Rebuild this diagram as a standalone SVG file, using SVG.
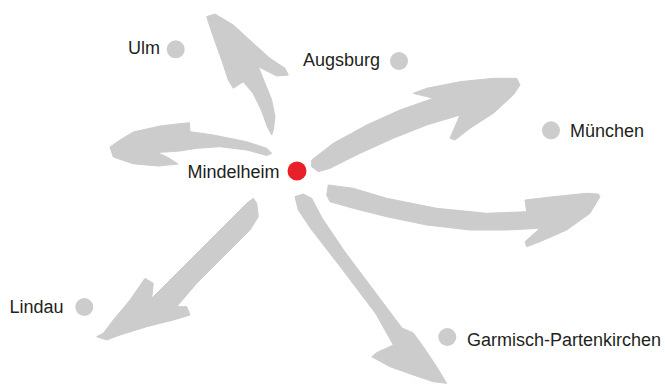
<svg xmlns="http://www.w3.org/2000/svg" width="665" height="388" viewBox="0 0 665 388">
<style>
.arrow{fill:#cdcccd;stroke:#cdcccd;stroke-width:1;stroke-linejoin:round}
.dot{fill:#cdcccd}
.hub{fill:#e8202a}
.lbl{font-family:"Liberation Sans",Arial,sans-serif;font-size:18px;fill:#231f20}
</style>
<rect width="665" height="388" fill="#ffffff"/>
<g id="connectors">
<path class="arrow" d="M206.7,16.7 L215,14 L233.3,25 L253.3,43.3 L270,58.3 L285,68.3 L288.3,75 L276.7,76 L258.3,66.7 L265,83.3 L271.7,100 L275,116.7 L273.3,130 L271.7,135 L267.3,126.7 L261.3,110 L253,93.3 L243.3,81.7 L233.3,88.3 L228.3,80 L221.7,60 L213.3,36.7 L208.3,21.7 Z"/>
<path class="arrow" d="M110,147 L120,140 L133.3,132 L160,126 L183.3,123.3 L189.3,122.7 L190,131.7 L213.3,135 L246.7,141.7 L266.7,148.3 L271.7,153.3 L266.7,155.5 L246.7,150 L220,146.7 L196.7,148.3 L180,151 L157,152.5 L168,157.5 L178,164 L158.3,166 L133.3,163.8 L113.3,157 Z"/>
<path class="arrow" d="M311.7,160 L333.3,143.3 L366.7,125 L400,110 L433.3,98.3 L413.3,93.3 L426.7,88.3 L460,81.7 L493.3,78.3 L516.7,78.3 L520,85 L513.3,95 L493.3,113.3 L470,128.3 L455,140 L450,138.3 L460,115 L426.7,125 L393.3,138.3 L360,153.3 L330,168.3 L318.3,171.7 L311.7,166.7 Z"/>
<path class="arrow" d="M328.3,185 L353.3,188.3 L386.7,198.3 L436.7,208.3 L486.7,213.3 L526.7,211.7 L525,200 L553.3,196.7 L586.7,193.3 L598.3,194 L600,196.7 L590,213.3 L566.7,230 L540,241.7 L526.7,246.7 L525,241.7 L540,228.3 L506.7,230 L470,230 L426.7,225 L386.7,216.7 L353.3,208.3 L330,201.7 L326.7,195 Z"/>
<path class="arrow" d="M295,196.7 L303.3,194 L311.7,198.3 L322,218 L345,252 L378,296 L402,328 L413.3,333 L423.3,346.7 L436.7,366.7 L446.7,383.3 L433.3,381.7 L413.3,375 L390,366.7 L371.7,356.7 L377,352.5 L393.3,345 L376,314 L342,269 L311,229 L298.3,210 Z"/>
<path class="arrow" d="M253.3,198.3 L256.7,203.3 L258.3,216.7 L250,230 L223.3,256.7 L196.7,283.3 L176.7,306.7 L186.7,306.7 L190,315 L173.3,320 L146.7,326.7 L120,335 L106.7,340 L96.7,336.7 L103.3,333.3 L113.3,320 L130,300 L145,278.3 L153.3,283.3 L151.7,298.3 L173.3,276.7 L200,250 L230,220 L246.7,203.3 Z"/>
</g>
<g id="ulm">
<circle class="dot" cx="175.7" cy="49.3" r="9"/>
<text class="lbl" x="128" y="54">Ulm</text>
</g>
<g id="augsburg">
<circle class="dot" cx="399" cy="61" r="9"/>
<text class="lbl" x="303" y="66">Augsburg</text>
</g>
<g id="muenchen">
<circle class="dot" cx="551" cy="130.3" r="9"/>
<text class="lbl" x="570" y="137">München</text>
</g>
<g id="mindelheim">
<circle class="hub" cx="297" cy="171" r="9.5"/>
<text class="lbl" x="187.5" y="177.5">Mindelheim</text>
</g>
<g id="lindau">
<circle class="dot" cx="84.3" cy="307" r="9"/>
<text class="lbl" x="9.5" y="312.5">Lindau</text>
</g>
<g id="garmisch">
<circle class="dot" cx="447.3" cy="337" r="9"/>
<text class="lbl" x="467" y="345.5">Garmisch-Partenkirchen</text>
</g>
</svg>
